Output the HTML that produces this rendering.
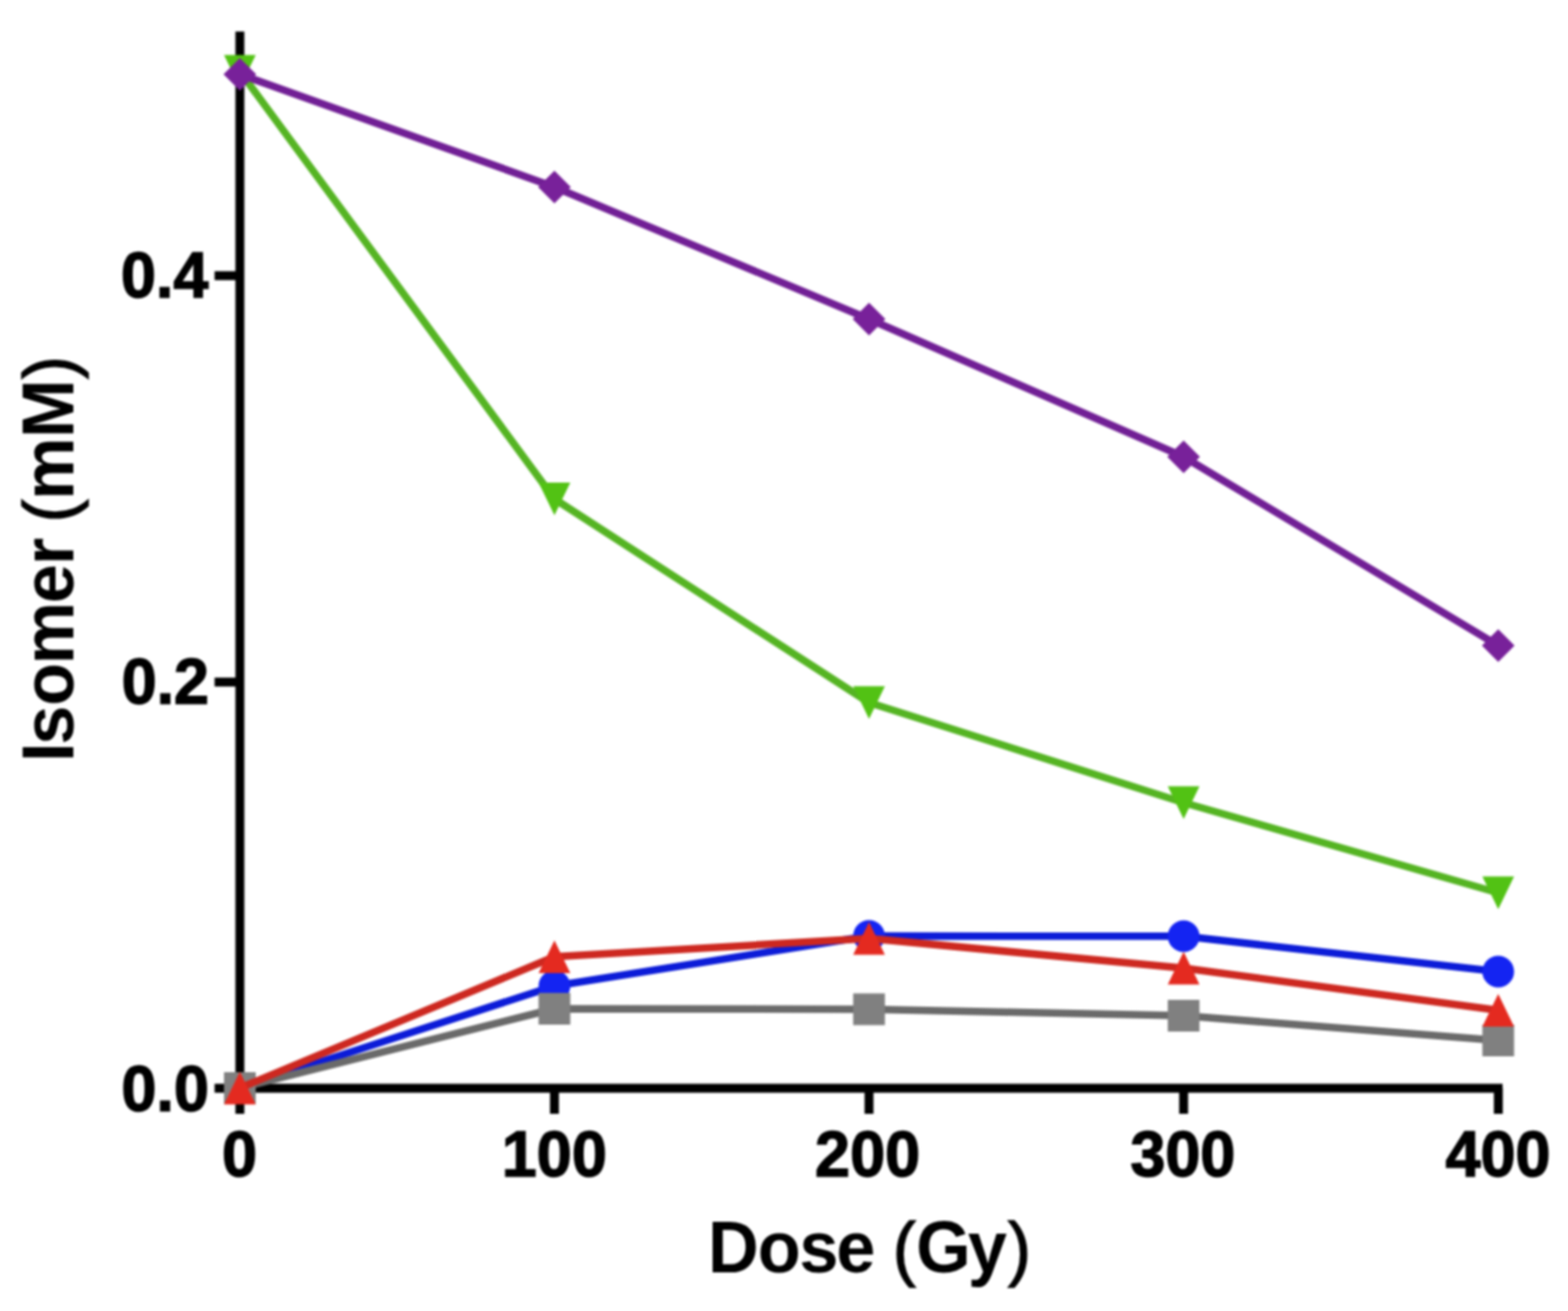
<!DOCTYPE html>
<html><head><meta charset="utf-8"><title>Isomer vs Dose</title>
<style>
html,body{margin:0;padding:0;background:#fff;}
body{width:1582px;height:1323px;overflow:hidden;}
svg{display:block;filter:blur(1px);}
.t{font-family:"Liberation Sans",Arial,Helvetica,sans-serif;font-weight:bold;font-size:63.5px;fill:#000;stroke:#000;stroke-width:1.4px;}
.ti{font-family:"Liberation Sans",Arial,Helvetica,sans-serif;font-weight:bold;font-size:71px;fill:#000;}
.pr{font-weight:normal;font-size:69.5px;stroke:#000;stroke-width:1.3px;}
</style></head>
<body>
<svg width="1582" height="1323" viewBox="0 0 1582 1323">
<rect x="237.5" y="31.8" width="9" height="1071" fill="#000"/>
<rect x="237.5" y="1093.7" width="1278.5" height="9" fill="#000"/>
<rect x="216.5" y="1093.7" width="25" height="9" fill="#000"/>
<rect x="216.5" y="683.8" width="25" height="9" fill="#000"/>
<rect x="216.5" y="273.7" width="25" height="9" fill="#000"/>
<rect x="237.5" y="1098" width="9" height="26" fill="#000"/>
<rect x="554.9" y="1098" width="9" height="26" fill="#000"/>
<rect x="872.3" y="1098" width="9" height="26" fill="#000"/>
<rect x="1189.7" y="1098" width="9" height="26" fill="#000"/>
<rect x="1507.2" y="1098" width="9" height="26" fill="#000"/>
<polyline points="242.0,1098.0 559.4,995.0 876.8,944.5 1194.2,944.8 1511.6,980.5" fill="none" stroke="#0c1cd8" stroke-width="7.5" stroke-linejoin="round"/>
<circle cx="242.0" cy="1098.0" r="16" fill="#1424f2"/>
<circle cx="559.4" cy="995.0" r="16" fill="#1424f2"/>
<circle cx="876.8" cy="944.5" r="16" fill="#1424f2"/>
<circle cx="1194.2" cy="944.8" r="16" fill="#1424f2"/>
<circle cx="1511.6" cy="980.5" r="16" fill="#1424f2"/>
<polyline points="242.0,1098.0 559.4,1018.0 876.8,1018.5 1194.2,1025.0 1511.6,1050.0" fill="none" stroke="#6a6a6a" stroke-width="7.5" stroke-linejoin="round"/>
<rect x="226.0" y="1082.0" width="32" height="32" fill="#808080"/>
<rect x="543.4" y="1002.0" width="32" height="32" fill="#808080"/>
<rect x="860.8" y="1002.5" width="32" height="32" fill="#808080"/>
<rect x="1178.2" y="1009.0" width="32" height="32" fill="#808080"/>
<rect x="1495.6" y="1034.0" width="32" height="32" fill="#808080"/>
<polyline points="242.0,1098.0 559.4,965.5 876.8,947.0 1194.2,977.0 1511.6,1019.5" fill="none" stroke="#cd2820" stroke-width="7.5" stroke-linejoin="round"/>
<polygon points="242.0,1081.5 258.0,1114.5 226.0,1114.5" fill="#e42a20"/>
<polygon points="559.4,949.0 575.4,982.0 543.4,982.0" fill="#e42a20"/>
<polygon points="876.8,930.5 892.8,963.5 860.8,963.5" fill="#e42a20"/>
<polygon points="1194.2,960.5 1210.2,993.5 1178.2,993.5" fill="#e42a20"/>
<polygon points="1511.6,1003.0 1527.6,1036.0 1495.6,1036.0" fill="#e42a20"/>
<polyline points="242.0,72.0 559.4,503.5 876.8,709.0 1194.2,810.0 1511.6,901.0" fill="none" stroke="#55b423" stroke-width="7.5" stroke-linejoin="round"/>
<polygon points="226.0,55.5 258.0,55.5 242.0,88.5" fill="#52c214"/>
<polygon points="543.4,487.0 575.4,487.0 559.4,520.0" fill="#52c214"/>
<polygon points="860.8,692.5 892.8,692.5 876.8,725.5" fill="#52c214"/>
<polygon points="1178.2,793.5 1210.2,793.5 1194.2,826.5" fill="#52c214"/>
<polygon points="1495.6,884.5 1527.6,884.5 1511.6,917.5" fill="#52c214"/>
<polyline points="242.0,75.0 559.4,188.7 876.8,322.0 1194.2,461.0 1511.6,651.5" fill="none" stroke="#711f95" stroke-width="7.5" stroke-linejoin="round"/>
<polygon points="242.0,58.5 258.5,75.0 242.0,91.5 225.5,75.0" fill="#78219a"/>
<polygon points="559.4,172.2 575.9,188.7 559.4,205.2 542.9,188.7" fill="#78219a"/>
<polygon points="876.8,305.5 893.3,322.0 876.8,338.5 860.3,322.0" fill="#78219a"/>
<polygon points="1194.2,444.5 1210.7,461.0 1194.2,477.5 1177.7,461.0" fill="#78219a"/>
<polygon points="1511.6,635.0 1528.1,651.5 1511.6,668.0 1495.1,651.5" fill="#78219a"/>
<text class="t" transform="translate(0,1120.70) scale(1,1.03)" x="122.51" y="0">0.0</text>
<text class="t" transform="translate(0,709.90) scale(1,1.03)" x="122.68" y="0">0.2</text>
<text class="t" transform="translate(0,299.70) scale(1,1.03)" x="121.98" y="0">0.4</text>
<text class="t" transform="translate(0,1186.80) scale(1,1.03)" x="224.09" y="0">0</text>
<text class="t" transform="translate(0,1186.80) scale(1,1.03)" x="506.33" y="0">100</text>
<text class="t" transform="translate(0,1186.80) scale(1,1.03)" x="822.33" y="0">200</text>
<text class="t" transform="translate(0,1186.80) scale(1,1.03)" x="1140.40" y="0">300</text>
<text class="t" transform="translate(0,1186.80) scale(1,1.03)" x="1458.45" y="0">400</text>
<text class="ti" transform="translate(0,1284.4) scale(1,1.05)" y="0"><tspan x="714.18">D</tspan><tspan x="764.57">o</tspan><tspan x="806.51">s</tspan><tspan x="843.68">e</tspan><tspan x="883.17"> </tspan><tspan x="900.78" class="pr">(</tspan><tspan x="924.33">G</tspan><tspan x="976.62">y</tspan><tspan x="1017.13" class="pr">)</tspan></text>
<text class="ti" transform="translate(73.8,0) rotate(-90) scale(1,1.05)" y="0"><tspan x="-768.96">I</tspan><tspan x="-751.39">s</tspan><tspan x="-712.33">o</tspan><tspan x="-670.50">m</tspan><tspan x="-608.72">e</tspan><tspan x="-570.17">r</tspan><tspan x="-542.54"> </tspan><tspan x="-527.32" class="pr">(</tspan><tspan x="-504.40">m</tspan><tspan x="-442.07">M</tspan><tspan x="-382.62" class="pr">)</tspan></text>
</svg>
</body></html>
